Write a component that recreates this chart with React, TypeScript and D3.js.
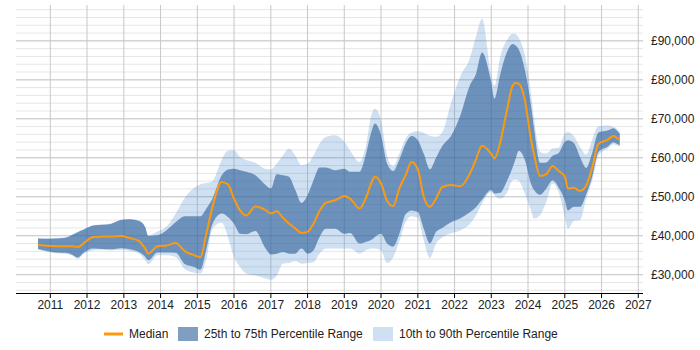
import { useCallback, useEffect, useRef } from 'react';
import * as d3 from 'd3';

// month of each sample
const months = [
    "2010-09", "2010-12", "2011-03", "2011-06", "2011-08", "2011-10", "2011-12",
    "2012-03", "2012-06", "2012-09", "2012-12", "2013-03", "2013-06", "2013-08", "2013-09", "2013-12",
    "2014-03", "2014-06", "2014-09", "2014-12", "2015-02", "2015-04", "2015-06", "2015-09", "2015-11",
    "2016-01", "2016-03", "2016-05", "2016-08", "2016-11", "2017-01", "2017-03", "2017-05", "2017-07",
    "2017-09", "2017-11", "2018-01", "2018-03", "2018-05", "2018-07", "2018-10", "2019-01", "2019-03",
    "2019-06", "2019-08", "2019-10", "2019-11", "2020-01", "2020-03", "2020-05", "2020-07", "2020-09",
    "2020-11", "2021-01", "2021-03", "2021-05", "2021-07", "2021-09", "2021-12", "2022-03", "2022-06",
    "2022-08", "2022-10", "2023-01", "2023-02", "2023-04", "2023-06", "2023-08", "2023-09", "2023-10",
    "2023-12", "2024-02", "2024-03", "2024-05", "2024-07", "2024-09", "2024-11", "2025-01", "2025-02",
    "2025-04", "2025-06", "2025-08", "2025-10", "2025-12", "2026-03", "2026-05", "2026-06", "2026-07",
];

const p10 = [
    36400, 35900, 35500, 35400, 35000, 34100, 35400,
    36300, 36400, 36300, 36400, 36100, 35400, 33700, 32700, 35000,
    35000, 34500, 31400, 30500, 30300, 34000, 41800, 43300, 39700,
    34500, 32000, 30300, 29800, 29100, 28700, 29800, 32900, 33000,
    33500, 32800, 33000, 33200, 35400, 36700, 36700, 36700, 36700,
    35400, 36300, 36700, 36700, 36300, 33000, 34500, 38500, 43500,
    45000, 44600, 38800, 34300, 38000, 39600, 40600, 41400, 43000,
    45200, 48200, 51200, 50400, 49500, 50800, 54200, 54400, 54100,
    50800, 46400, 44400, 45300, 48700, 53400, 51200, 44800, 41800,
    43800, 44000, 49500, 54200, 60600, 62300, 63500, 63200, 62900,
];

const p25 = [
    36600, 36100, 35700, 35600, 35200, 34400, 35700,
    36700, 36600, 36500, 36800, 36500, 35800, 34600, 33700, 35700,
    35700, 35600, 32700, 32000, 31300, 36500, 43000, 45700, 44800,
    43100, 40500, 40400, 41200, 37100, 35200, 35400, 35800, 35400,
    35400, 36700, 35400, 36300, 39700, 41800, 41800, 40500, 40700,
    38000, 38400, 39000, 39700, 40500, 38000, 37200, 40500, 45500,
    46500, 46100, 41800, 38000, 41000, 42000, 43500, 44500, 46000,
    47300, 49200, 51700, 50800, 51000, 53800, 57500, 59800, 61800,
    59400, 53200, 51700, 50500, 52100, 54200, 52300, 49100, 46500,
    47400, 47400, 50600, 55200, 61500, 62800, 64000, 63600, 63200,
];

const median = [
    37700, 37400, 37300, 37300, 37300, 37100, 38100,
    39700, 39800, 39800, 39900, 39400, 38600, 36700, 35400, 37300,
    37500, 38100, 36000, 35000, 34500, 40500, 47400, 53800, 53200,
    49500, 46500, 45200, 47500, 46700, 45700, 46300, 44600, 43100,
    41900, 40700, 41000, 43100, 46400, 48400, 49100, 50200, 49500,
    47000, 49500, 53800, 55100, 53400, 49000, 47600, 52100, 55500,
    58900, 57000, 50000, 47400, 49500, 52500, 53000, 52700, 55900,
    59500, 63100, 61000, 59800, 64000, 71600, 78500, 79200, 79000,
    74800, 64500, 60900, 55300, 55800, 57900, 56600, 55200, 52100,
    52300, 51500, 52800, 57600, 63600, 64600, 65600, 65100, 64700,
];

const p75 = [
    39300, 39200, 39300, 39500, 40100, 40900, 41600,
    42600, 42800, 43100, 44000, 44200, 43800, 42200, 39900, 40100,
    41400, 43500, 45000, 45000, 45000, 47000, 49500, 55500, 57000,
    57200, 56800, 56400, 55500, 53200, 52100, 55800, 55500, 55100,
    51700, 48400, 50400, 54200, 57500, 57500, 56800, 57200, 56400,
    56400, 60600, 67000, 68800, 65800, 58500, 56600, 59500, 63600,
    65600, 64500, 61000, 57000, 60000, 63000, 65800, 71000, 78500,
    81400, 87000, 79200, 75200, 81500, 86800, 89200, 88800, 87800,
    82500, 73300, 67500, 58700, 58800, 60500, 61200, 64100, 64500,
    63800, 60200, 57400, 61300, 66500, 67000, 67600, 67000, 66200,
];

const p90 = [
    39400, 39300, 39400, 39600, 40200, 41000, 41700,
    42700, 42900, 43200, 44100, 44300, 43900, 42300, 40100, 41100,
    42300, 45700, 49800, 52300, 53200, 53500, 54000, 59500, 61800,
    61900, 60200, 59400, 58700, 57200, 57000, 58500, 60600, 62300,
    60600, 58100, 58500, 60600, 63600, 65300, 65800, 64100, 61800,
    58900, 62700, 71300, 72600, 69600, 60500, 57800, 61000, 64900,
    66500, 66800, 66400, 65600, 65400, 66500, 74500, 81000, 85500,
    91000, 95700, 81000, 78500, 86000, 90000, 91800, 91700, 90800,
    86300, 76200, 70000, 61500, 61100, 62400, 62600, 66200, 66600,
    65500, 62800, 60800, 64700, 68100, 68300, 67900, 67500, 66600,
];

const yTicks = [30000, 40000, 50000, 60000, 70000, 80000, 90000];
const xTickYears = ["2011", "2012", "2013", "2014", "2015", "2016", "2017", "2018", "2019",
    "2020", "2021", "2022", "2023", "2024", "2025", "2026", "2027"];
const legendLabels = ["Median", "25th to 75th Percentile Range", "10th to 90th Percentile Range"];

const FONT = "'Liberation Sans', Arial, sans-serif";
const ORANGE = "#fb9a0f";
const LIGHT = "rgba(60,130,200,0.25)";
const DARK = "rgba(43,94,153,0.6)";

export default function App() {
    const svgRef = useRef<SVGSVGElement>(null);

    const draw = useCallback(() => {
        if (!svgRef.current) return;
        const svg = d3.select(svgRef.current);
        svg.selectAll('*').remove();

        const plot = { left: 16, right: 643, top: 5, bottom: 293 };
        const parseMonth = d3.timeParse("%Y-%m");
        const parseYear = d3.timeParse("%Y");
        const dates = months.map(m => parseMonth(m)!);

        const x = d3.scaleTime()
            .domain([new Date(2010, 0, 25), new Date(2027, 1, 17)])
            .range([plot.left, plot.right]);
        const y = d3.scaleLinear()
            .domain([25300, 99200])
            .range([plot.bottom, plot.top]);

        const g = svg.append('g');

        // minor horizontal grid
        g.append('g').selectAll('line')
            .data(d3.range(26000, 100000, 2000))
            .join('line')
            .attr('x1', plot.left).attr('x2', plot.right)
            .attr('y1', d => y(d)).attr('y2', d => y(d))
            .attr('stroke', '#e6e6e6').attr('stroke-width', 1);

        // major horizontal grid
        g.append('g').selectAll('line')
            .data(yTicks)
            .join('line')
            .attr('x1', plot.left).attr('x2', plot.right)
            .attr('y1', d => y(d)).attr('y2', d => y(d))
            .attr('stroke', '#c8c8c8').attr('stroke-width', 1);

        // vertical grid
        g.append('g').selectAll('line')
            .data(xTickYears)
            .join('line')
            .attr('x1', d => x(parseYear(d)!)).attr('x2', d => x(parseYear(d)!))
            .attr('y1', plot.top).attr('y2', plot.bottom)
            .attr('stroke', '#c8c8c8').attr('stroke-width', 1);

        const band = (lo: number[], hi: number[]) => d3.area<number>()
            .x(i => x(dates[i]))
            .y0(i => y(lo[i]))
            .y1(i => y(hi[i]))
            .curve(d3.curveMonotoneX);
        const idx = d3.range(dates.length);

        g.append('path').datum(idx).attr('d', band(p10, p90)).attr('fill', LIGHT);
        g.append('path').datum(idx).attr('d', band(p25, p75)).attr('fill', DARK);

        const line = d3.line<number>()
            .x(i => x(dates[i]))
            .y(i => y(median[i]))
            .curve(d3.curveMonotoneX);
        g.append('path').datum(idx).attr('d', line)
            .attr('fill', 'none').attr('stroke', ORANGE).attr('stroke-width', 2);

        // x axis
        const axis = g.append('g').attr('transform', `translate(0,${plot.bottom})`);
        axis.append('line')
            .attr('x1', plot.left).attr('x2', plot.right)
            .attr('y1', 0.5).attr('y2', 0.5)
            .attr('stroke', '#000').attr('stroke-width', 1);
        axis.selectAll('.tick')
            .data(xTickYears)
            .join('line')
            .attr('x1', d => x(parseYear(d)!)).attr('x2', d => x(parseYear(d)!))
            .attr('y1', 0).attr('y2', 5)
            .attr('stroke', '#000');
        axis.selectAll('text')
            .data(xTickYears)
            .join('text')
            .attr('x', d => x(parseYear(d)!))
            .attr('y', 16)
            .attr('text-anchor', 'middle')
            .attr('font-family', FONT)
            .attr('font-size', 12)
            .attr('fill', '#222')
            .text(d => d);

        // y labels
        g.append('g').selectAll('text')
            .data(yTicks)
            .join('text')
            .attr('x', 651)
            .attr('y', d => y(d) + 4)
            .attr('font-family', FONT)
            .attr('font-size', 12)
            .attr('fill', '#222')
            .text(d => '£' + d3.format(',')(d));

        // legend
        const lg = svg.append('g').attr('font-family', FONT).attr('font-size', 12).attr('fill', '#222');
        lg.append('line').attr('x1', 104).attr('x2', 123).attr('y1', 334).attr('y2', 334)
            .attr('stroke', ORANGE).attr('stroke-width', 3);
        lg.append('text').attr('x', 129).attr('y', 338).text(legendLabels[0]);
        lg.append('rect').attr('x', 178).attr('y', 327).attr('width', 20).attr('height', 14).attr('fill', DARK);
        lg.append('text').attr('x', 204).attr('y', 338).text(legendLabels[1]);
        lg.append('rect').attr('x', 373).attr('y', 327).attr('width', 20).attr('height', 14).attr('fill', LIGHT);
        lg.append('text').attr('x', 399).attr('y', 338).text(legendLabels[2]);
    }, []);

    useEffect(() => {
        draw();
    }, [draw]);

    return (
        <svg ref={svgRef} width={700} height={350} style={{ position: 'absolute', left: 0, top: 0 }}></svg>
    );
}
